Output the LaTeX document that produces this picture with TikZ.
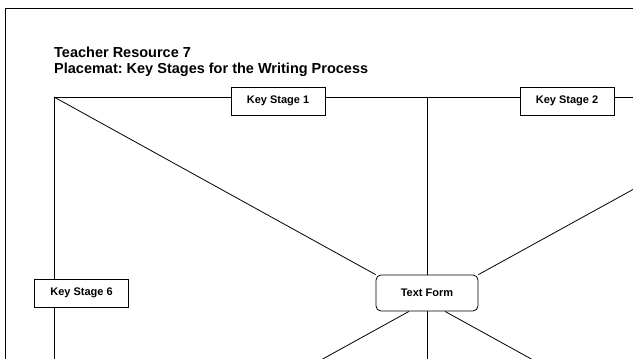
\documentclass[tikz,border=0pt]{standalone}
\usepackage{fontspec}
\setmainfont{Liberation Sans}
\usetikzlibrary{positioning, backgrounds}
\frenchspacing
\tikzset{
  stagebox/.style={draw, fill=white, line width=0.8pt, minimum width=94pt, minimum height=28pt, inner sep=0pt, font=\fontsize{11}{13}\selectfont\bfseries},
  formbox/.style={draw, fill=white, line width=0.8pt, rounded corners=5pt, minimum width=102pt, minimum height=36pt, inner sep=0pt, font=\fontsize{11}{13}\selectfont\bfseries},
  titletext/.style={anchor=base west, inner sep=0pt, font=\fontsize{14.5}{16}\selectfont\bfseries},
  matline/.style={line width=0.8pt}
}

\begin{document}
\begin{tikzpicture}[x=1pt, y=-1pt]
  \useasboundingbox (0,0) rectangle (633,359);
  \clip (0,0) rectangle (633,359);

  % outer page frame
  \draw[line width=1pt] (5,400) -- (5,8) -- (700,8);

  % heading
  \node[titletext] (title1) at (54,57) {Teacher Resource 7};
  \node[titletext] (title2) at ([yshift=-16pt]title1.base west) {Placemat: Key Stages for the Writing Process};

  % placemat corners
  \coordinate (tl) at (54,97);
  \coordinate (tr) at (801,97);
  \coordinate (bl) at (54,500);
  \coordinate (topmid) at (427,97);
  \coordinate (botmid) at (427,500);
  \coordinate (lowleft) at (87,489);
  \coordinate (lowright) at (767,489);

  % stage boxes
  \node[stagebox] (ks1) at (278,101) {Key Stage 1};
  \node[stagebox] (ks2) at (567,101) {Key Stage 2};
  \node[stagebox] (ks6) at (81.5,293) {Key Stage 6};
  \node[formbox] (form) at (427,293) {Text Form};

  \begin{pgfonlayer}{background}
    \draw[matline] (bl) -- (tl) -- (tr);
    \draw[matline] (topmid) -- (form.north);
    \draw[matline] (form.south) -- (botmid);
    \draw[matline] (tl) -- (form.north west);
    \draw[matline] (form.north east) -- (tr);
    \draw[matline] ([xshift=-18pt]form.south) -- (lowleft);
    \draw[matline] ([xshift=18pt]form.south) -- (lowright);
  \end{pgfonlayer}
\end{tikzpicture}
\end{document}
